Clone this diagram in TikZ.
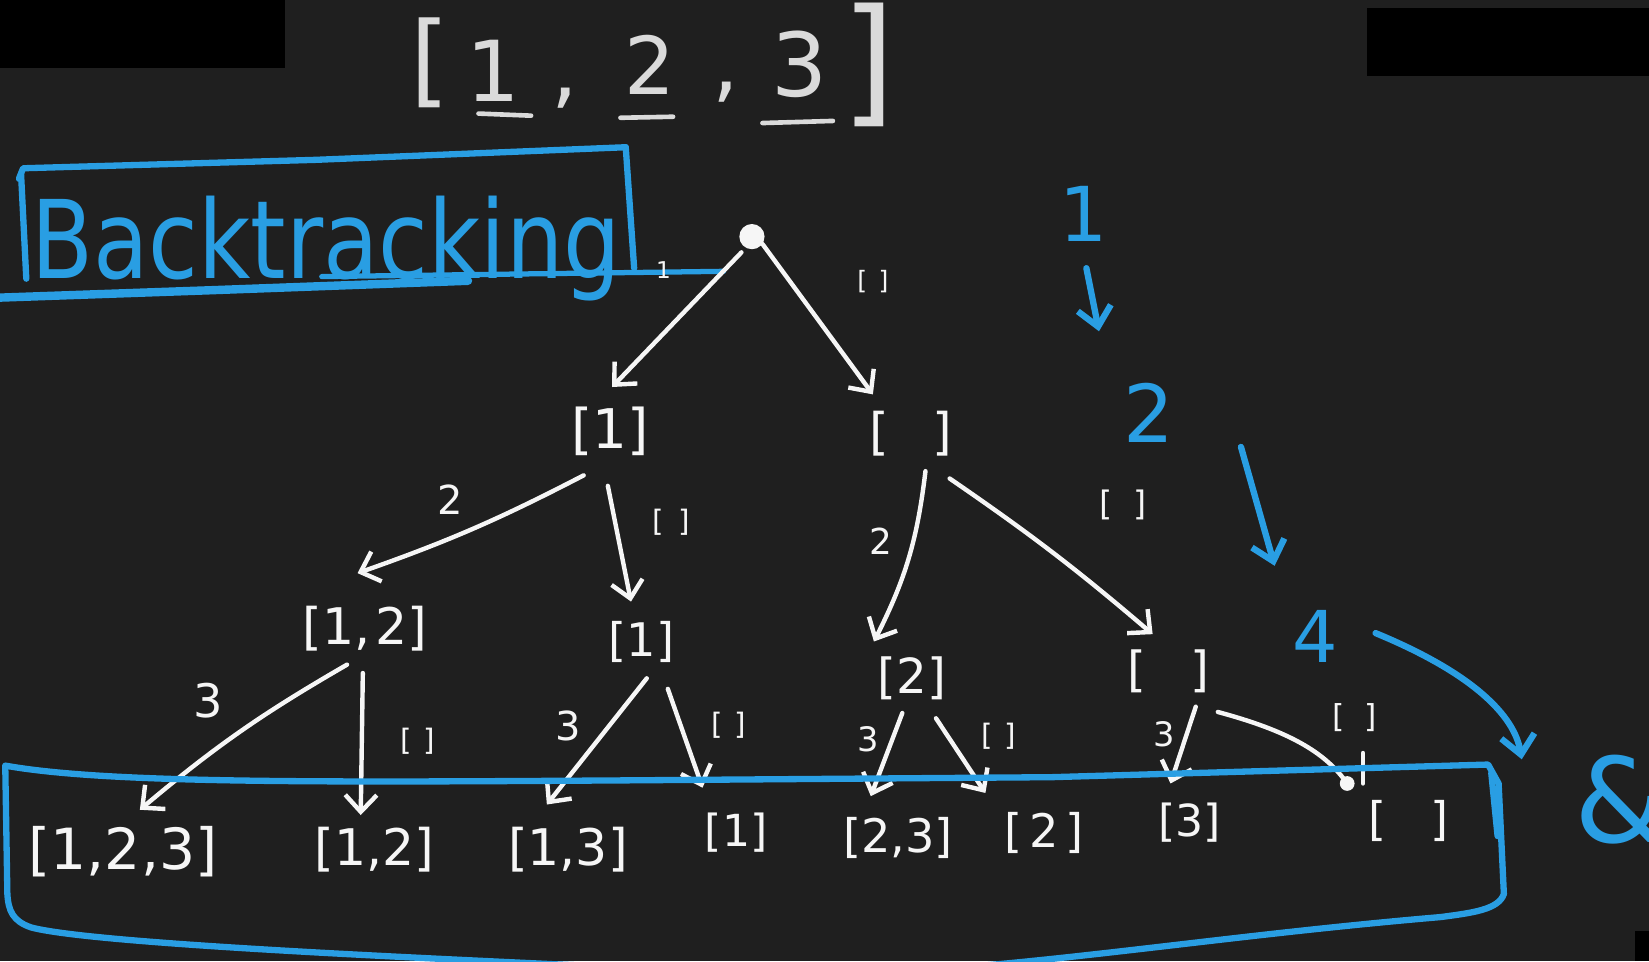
\documentclass[tikz,border=0pt]{standalone}
\usepackage{fontspec}
\setmainfont{DejaVu Sans}
\usetikzlibrary{arrows.meta}
\definecolor{bgc}{RGB}{31,31,31}
\definecolor{inkblue}{RGB}{41,158,227}
\definecolor{chalk}{RGB}{246,246,246}
\definecolor{chalkgray}{RGB}{218,218,218}
\newcommand{\fsz}[1]{\fontsize{#1}{#1}\selectfont}
\begin{document}
\begin{tikzpicture}[x=0.5pt,y=-0.5pt,line cap=round,line join=round,
  txt/.style={text=chalk,inner sep=0pt},
  lbl/.style={text=chalk,inner sep=0pt,font=\fsz{12}},
  edge/.style={draw=chalk,line width=2.1pt,-{Straight Barb[length=8pt,width=15pt,line width=2.1pt]}},
  plain/.style={draw=chalk,line width=2.1pt},
  bline/.style={draw=inkblue,line width=3pt},
  barrow/.style={draw=inkblue,line width=3pt,-{Straight Barb[length=9pt,width=16pt,line width=3pt]}},
  btxt/.style={text=inkblue,inner sep=0pt}]
\fill[bgc] (0,0) rectangle (1568,914);
\useasboundingbox (0,0) rectangle (1568,914);
\fill[black] (0,0) rectangle (271,65);
\fill[black] (1300,8) rectangle (1568,72);
\fill[black] (1555,885) rectangle (1568,914);

% ---- title [1, 2, 3]
\node[txt,text=chalkgray,font=\fsz{48}] (tl) at (409,60) {[};
\node[txt,text=chalkgray,font=\fsz{40}] (t1) at (469,67) {1};
\node[txt,text=chalkgray,font=\fsz{40}] (tc1) at (537,93) {,};
\node[txt,text=chalkgray,font=\fsz{38}] (t2) at (618,62) {2};
\node[txt,text=chalkgray,font=\fsz{40}] (tc2) at (690,88) {,};
\node[txt,text=chalkgray,font=\fsz{42}] (t3) at (760,61) {3};
\node[txt,text=chalkgray,font=\fsz{66}] (tr) at (826,62) {]};
\draw[chalkgray,line width=2.2pt] (455,108) -- (505,110);
\draw[chalkgray,line width=2.2pt] (590,112) -- (640,111);
\draw[chalkgray,line width=2.2pt] (725,117) -- (792,115);

% ---- Backtracking box
\node[btxt,font=\fsz{43},yscale=1.2,anchor=base] (bt) at (310,265) {Backtracking};
\draw[bline] (18,170) -- (22,160) -- (300,152) -- (595,140);
\draw[bline] (20,165) -- (25,265);
\draw[bline] (595,140) -- (603,255);
\draw[draw=inkblue,line width=4pt] (0,283) -- (200,276) -- (445,267);
\draw[draw=inkblue,line width=2.5pt] (306,263) -- (688,258);

% ---- tree
\node[circle,fill=chalk,minimum size=12pt,inner sep=0pt] (root) at (715,225) {};
\node[txt,font=\fsz{26}] (n1) at (580,410) {[1]};
\node[txt,font=\fsz{24}] (n2) at (866,412) {[\hspace{0.85em}]};
\node[txt,font=\fsz{24}] (n11) at (347,598) {[1,\hspace{0.1em}2]};
\node[txt,font=\fsz{22}] (n12) at (610,610) {[1]};
\node[txt,font=\fsz{23}] (n21) at (867,645) {[2]};
\node[txt,font=\fsz{23}] (n22) at (1111,638) {[\hspace{0.9em}]};
\node[txt,font=\fsz{27}] (l1) at (117,810) {[1,2,3]};
\node[txt,font=\fsz{24}] (l2) at (356,808) {[1,2]};
\node[txt,font=\fsz{24}] (l3) at (540,808) {[1,3]};
\node[txt,font=\fsz{21}] (l4) at (700,792) {[1]};
\node[txt,font=\fsz{22}] (l5) at (854,797) {[2,3]};
\node[txt,font=\fsz{22}] (l6) at (993,792) {[\hspace{0.15em}2\hspace{0.15em}]};
\node[txt,font=\fsz{21}] (l7) at (1131,782) {[3]};
\node[txt,font=\fsz{22}] (l8) at (1339,781) {[\hspace{0.95em}]};

% edges
\draw[edge] ([shift={(-10,15)}]root.center) -- ([shift={(2,-42)}]n1.center);
\draw[edge] ([shift={(10,7)}]root.center) -- ([shift={(-36,-37)}]n2.center);
\draw[edge] ([shift={(-25,42)}]n1.center) to[bend left=4] ([shift={(-7,-53)}]n11.center);
\draw[edge] ([shift={(-2,52)}]n1.center) -- ([shift={(-10,-38)}]n12.center);
\draw[edge] ([shift={(14,36)}]n2.center) to[bend left=10] ([shift={(-36,-35)}]n21.center);
\draw[edge] ([shift={(37,43)}]n2.center) to[bend left=3] ([shift={(-15,-35)}]n22.center);
\draw[edge] ([shift={(-17,34)}]n11.center) to[bend right=5] ([shift={(16,-40)}]l1.center);
\draw[edge] ([shift={(-2,42)}]n11.center) -- ([shift={(-13,-33)}]l2.center);
\draw[edge] ([shift={(5,35)}]n12.center) -- ([shift={(-20,-43)}]l3.center);
\draw[edge] ([shift={(25,45)}]n12.center) -- ([shift={(-32,-43)}]l4.center);
\draw[edge] ([shift={(-9,33)}]n21.center) -- ([shift={(-26,-40)}]l5.center);
\draw[edge] ([shift={(23,38)}]n21.center) -- ([shift={(-56,-38)}]l6.center);
\draw[edge] ([shift={(26,34)}]n22.center) -- ([shift={(-18,-37)}]l7.center);
\node[circle,fill=chalk,minimum size=7pt,inner sep=0pt] (dot8) at (1281,745) {};
\draw[plain] ([shift={(47,39)}]n22.center) .. controls (1225,695) and (1260,715) .. (dot8.center);
\draw[plain] ([shift={(-43,-65)}]l8.center) -- ([shift={(-43,-36)}]l8.center);

% edge labels
\node[txt,font=\fsz{11}] (e1) at (631,257) {1};
\node[lbl] (e2) at (830,268) {[\hspace{0.45em}]};
\node[txt,font=\fsz{19}] (e3) at (428,475) {2};
\node[lbl,font=\fsz{14}] (e4) at (638,497) {[\hspace{0.5em}]};
\node[txt,font=\fsz{17}] (e5) at (838,515) {2};
\node[lbl,font=\fsz{16}] (e6) at (1068,480) {[\hspace{0.6em}]};
\node[txt,font=\fsz{22}] (e7) at (198,666) {3};
\node[lbl,font=\fsz{14}] (e8) at (397,705) {[\hspace{0.4em}]};
\node[txt,font=\fsz{19}] (e9) at (540,690) {3};
\node[lbl,font=\fsz{14}] (e10) at (693,690) {[\hspace{0.4em}]};
\node[txt,font=\fsz{16}] (e11) at (826,703) {3};
\node[lbl,font=\fsz{14}] (e12) at (950,700) {[\hspace{0.4em}]};
\node[txt,font=\fsz{16}] (e13) at (1107,698) {3};
\node[lbl,font=\fsz{15}] (e14) at (1288,682) {[\hspace{0.6em}]};

% ---- right side blue notes
\node[btxt,font=\fsz{36}] (b1) at (1030,203) {1};
\draw[barrow] ([shift={(3,52)}]b1.center) -- ([shift={(15,112)}]b1.center);
\node[btxt,font=\fsz{38}] (b2) at (1092,393) {2};
\draw[barrow] ([shift={(88,32)}]b2.center) -- ([shift={(120,145)}]b2.center);
\node[btxt,font=\fsz{34}] (b4) at (1251,605) {4};
\draw[barrow] ([shift={(57,-3)}]b4.center) .. controls (1400,640) and (1440,680) .. (1447,722);
\node[btxt,font=\fsz{56}] (amp) at (1541,760) {\&};

% ---- bottom blue box
\draw[bline] (5,728) .. controls (100,745) and (300,744) .. (600,742) -- (1000,739) -- (1415,727)
  -- (1425,745) -- (1430,850) .. controls (1425,865) and (1400,868) .. (1370,872)
  .. controls (1100,895) and (900,935) .. (700,925)
  .. controls (500,915) and (100,900) .. (30,882)
  .. controls (12,876) and (8,866) .. (7,850) -- (5,728);
\draw[bline] (1418,735) -- (1424,795);
\end{tikzpicture}
\end{document}
